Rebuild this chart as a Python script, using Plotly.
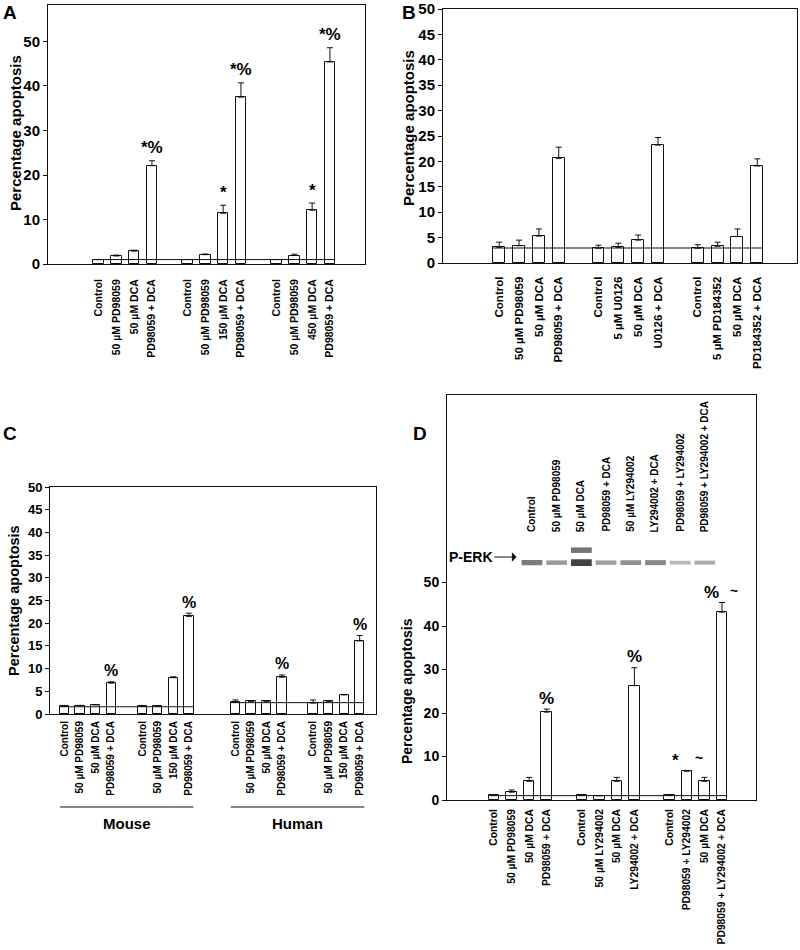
import plotly.graph_objects as go

W, H = 800, 950
FONT = "Liberation Sans, Arial, sans-serif"

# ---------------- DATA ----------------
A_labels = ["Control", "50 µM PD98059", "50 µM DCA", "PD98059 + DCA",
            "Control", "50 µM PD98059", "150 µM DCA", "PD98059 + DCA",
            "Control", "50 µM PD98059", "450 µM DCA", "PD98059 + DCA"]
A_values = [1.0, 1.8, 2.9, 22.1, 1.0, 2.1, 11.4, 37.5, 1.0, 1.9, 12.1, 45.4]
A_errors = [0.0, 0.2, 0.2, 1.1, 0.0, 0.15, 1.8, 3.2, 0.0, 0.3, 1.6, 3.2]
A_marks = ["", "", "", "*%", "", "", "*", "*%", "", "", "*", "*%"]
A_ref = 1.0
A_yticks = [0, 10, 20, 30, 40, 50]

B_labels = ["Control", "50 µM PD98059", "50 µM DCA", "PD98059 + DCA",
            "Control", "5 µM U0126", "50 µM DCA", "U0126 + DCA",
            "Control", "5 µM PD184352", "50 µM DCA", "PD184352 + DCA"]
B_values = [3.1, 3.4, 5.3, 20.6, 2.9, 3.1, 4.5, 23.2, 2.9, 3.3, 5.2, 19.1]
B_errors = [1.0, 1.1, 1.4, 2.2, 0.6, 0.8, 1.0, 1.5, 0.7, 0.8, 1.5, 1.4]
B_ref = 2.95
B_yticks = [0, 5, 10, 15, 20, 25, 30, 35, 40, 45, 50]

C_labels = ["Control", "50 µM PD98059", "50 µM DCA", "PD98059 + DCA",
            "Control", "50 µM PD98059", "150 µM DCA", "PD98059 + DCA",
            "Control", "50 µM PD98059", "50 µM DCA", "PD98059 + DCA",
            "Control", "50 µM PD98059", "150 µM DCA", "PD98059 + DCA"]
C_values = [1.7, 1.8, 2.0, 6.8, 1.7, 1.7, 8.0, 21.5,
            2.6, 2.8, 2.8, 8.1, 2.4, 2.8, 4.2, 16.1]
C_errors = [0.1, 0.1, 0.1, 0.3, 0.1, 0.1, 0.2, 0.7,
            0.5, 0.1, 0.1, 0.5, 0.7, 0.1, 0.1, 1.2]
C_marks = ["", "", "", "%", "", "", "", "%", "", "", "", "%", "", "", "", "%"]
C_species = ["Mouse", "Human"]
C_refs = [1.6, 2.5]
C_yticks = [0, 5, 10, 15, 20, 25, 30, 35, 40, 45, 50]

D_labels = ["Control", "50 µM PD98059", "50 µM DCA", "PD98059 + DCA",
            "Control", "50 µM LY294002", "50 µM DCA", "LY294002 + DCA",
            "Control", "PD98059 + LY294002", "50 µM DCA", "PD98059 + LY294002 + DCA"]
D_values = [1.15, 1.8, 4.3, 20.2, 1.15, 1.0, 4.3, 26.3, 1.15, 6.6, 4.3, 43.2]
D_errors = [0.0, 0.5, 0.9, 0.7, 0.0, 0.0, 0.9, 4.1, 0.0, 0.2, 0.9, 2.2]
D_marks = ["", "", "", "%", "", "", "", "%", "", "*", "", "%"]
D_tilde = ["", "", "", "", "", "", "", "", "", "~", "", "~"]
D_ref = 1.0
D_yticks = [0, 10, 20, 30, 40, 50]

blot_labels = ["Control", "50 µM PD98059", "50 µM DCA", "PD98059 + DCA",
               "50 µM LY294002", "LY294002 + DCA", "PD98059 + LY294002",
               "PD98059 + LY294002 + DCA"]
blot_main = [0.55, 0.40, 0.85, 0.38, 0.45, 0.50, 0.25, 0.32]
blot_upper = [0.0, 0.0, 0.60, 0.0, 0.0, 0.0, 0.0, 0.0]


# ---------------- helpers ----------------
def px_x(p):
    return p / W


def px_y(p):
    return 1 - p / H


def slots(n_groups, per_group, gaps):
    pos, cur = [], 0
    for g in range(n_groups):
        for i in range(per_group):
            pos.append(cur)
            cur += 1
        if g < n_groups - 1:
            cur += gaps[g]
    return pos


BW = 0.6
fig = go.Figure()
annotations = []
shapes = []


def add_bars(xa, ya, pos, vals, errs):
    fig.add_trace(go.Bar(
        x=pos, y=vals, width=BW, xaxis=xa, yaxis=ya,
        marker=dict(color="white", line=dict(color="#111", width=1)),
        error_y=dict(type="data", symmetric=False, array=errs,
                     arrayminus=[0] * len(errs), color="#111",
                     thickness=1, width=3),
        showlegend=False, hoverinfo="skip"))


def add_ref(xa, ya, x0, x1, v):
    fig.add_trace(go.Scatter(
        x=[x0 - BW / 2, x1 + BW / 2], y=[v, v], mode="lines",
        line=dict(color="#111", width=1), xaxis=xa, yaxis=ya,
        showlegend=False, hoverinfo="skip"))


def add_marks(xr, yr, pos, vals, errs, marks, size, shift, xshift=0):
    for p, v, e, m in zip(pos, vals, errs, marks):
        if m:
            annotations.append(dict(
                x=p, y=v + e, xref=xr, yref=yr, text="<b>%s</b>" % m,
                showarrow=False, xanchor="center", yanchor="middle", yshift=shift,
                xshift=xshift, font=dict(size=size, family=FONT, color="black")))


axis_common = dict(showline=True, linecolor="#111", linewidth=1, mirror=True,
                   showgrid=False, zeroline=False, automargin=False)

# ---------------- Panel A ----------------
A_pos = slots(3, 4, [1, 1])
add_bars("x", "y", A_pos, A_values, A_errors)
add_ref("x", "y", A_pos[0], A_pos[-1], A_ref)
add_marks("x", "y", A_pos, A_values, A_errors, A_marks, 17, 13)

# ---------------- Panel B ----------------
B_pos = slots(3, 4, [1, 1])
add_bars("x2", "y2", B_pos, B_values, B_errors)
add_ref("x2", "y2", B_pos[0], B_pos[-1], B_ref)

# ---------------- Panel C ----------------
C_pos = slots(4, 4, [1, 2, 1])
add_bars("x3", "y3", C_pos, C_values, C_errors)
for k, r in enumerate(C_refs):
    add_ref("x3", "y3", C_pos[8 * k], C_pos[8 * k + 7], r)
add_marks("x3", "y3", C_pos, C_values, C_errors, C_marks, 16, 11)
for k, name in enumerate(C_species):
    x0 = C_pos[8 * k] - BW / 2
    x1 = C_pos[8 * k + 7] + BW / 2
    shapes.append(dict(type="line", xref="x3", yref="paper", x0=x0, x1=x1,
                       y0=px_y(807), y1=px_y(807),
                       line=dict(color="#111", width=1.2)))
    annotations.append(dict(x=(x0 + x1) / 2, y=px_y(823), xref="x3", yref="paper",
                            xanchor="center", yanchor="middle",
                            text="<b>%s</b>" % name, showarrow=False,
                            font=dict(size=15, family=FONT, color="black")))

# ---------------- Panel D ----------------
D_pos = slots(3, 4, [1, 1])
add_bars("x4", "y4", D_pos, D_values, D_errors)
add_ref("x4", "y4", D_pos[0], D_pos[-1], D_ref)
both = [m != "" and t != "" for m, t in zip(D_marks, D_tilde)]
add_marks("x4", "y4", [p for p, b in zip(D_pos, both) if not b],
          [v for v, b in zip(D_values, both) if not b],
          [e for e, b in zip(D_errors, both) if not b],
          [m for m, b in zip(D_marks, both) if not b], 17, 11)
add_marks("x4", "y4", [p for p, b in zip(D_pos, both) if b],
          [v for v, b in zip(D_values, both) if b],
          [e for e, b in zip(D_errors, both) if b],
          [m for m, b in zip(D_marks, both) if b], 17, 10, xshift=-11)
add_marks("x4", "y4", D_pos, D_values, D_errors, D_tilde, 14, 12, xshift=12)

# blot
lanes = list(range(len(blot_labels)))
for i in lanes:
    for row, inten in ((0, blot_main[i]), (1, blot_upper[i])):
        if inten <= 0:
            continue
        g = int(235 - 200 * inten)
        fig.add_trace(go.Scatter(
            x=[i - 0.42, i + 0.42], y=[row, row], mode="lines",
            line=dict(color="rgb(%d,%d,%d)" % (g, g, g), width=2.5 + 5 * inten),
            xaxis="x5", yaxis="y5", showlegend=False, hoverinfo="skip"))
    annotations.append(dict(x=i, y=2.3, xref="x5", yref="y5",
                            text="<b>%s</b>" % blot_labels[i], textangle=-90,
                            showarrow=False, yanchor="bottom", xanchor="center",
                            font=dict(size=10, family=FONT, color="black")))
annotations.append(dict(x=-0.62, y=0.45, xref="x5", yref="y5", text="<b>P-ERK</b>",
                        showarrow=True, ax=-46, ay=0, arrowhead=1, arrowsize=1.6,
                        arrowwidth=1, arrowcolor="#111",
                        font=dict(size=14, family=FONT, color="black")))

# ---------------- axes ----------------
def xaxis(dom, rng, pos, labels, size, standoff):
    return dict(domain=[px_x(dom[0]), px_x(dom[1])], range=rng, tickvals=pos,
                ticktext=["<b>%s</b>" % t for t in labels], tickangle=-90,
                ticks="", ticklabelstandoff=standoff,
                tickfont=dict(size=size, family=FONT, color="black"), **axis_common)


def yaxis(dom, rng, vals, size, anchor):
    return dict(domain=[px_y(dom[1]), px_y(dom[0])], range=rng, tickvals=vals,
                ticktext=["<b>%d</b>" % v for v in vals], ticks="outside",
                ticklen=4, tickcolor="#111", anchor=anchor,
                tickfont=dict(size=size, family=FONT, color="black"), **axis_common)


D_top = 395
fig.update_layout(
    width=W, height=H, autosize=False, margin=dict(l=0, r=0, t=0, b=0, pad=0),
    paper_bgcolor="white", plot_bgcolor="rgba(0,0,0,0)",
    xaxis=xaxis((48, 365), [-2.84, 14.97], A_pos, A_labels, 10.5, 10) | dict(anchor="y"),
    yaxis=yaxis((5, 264), [0, 58.2], A_yticks, 15, "x"),
    xaxis2=xaxis((443, 797), [-2.83, 15.0], B_pos, B_labels, 11.5, 8) | dict(anchor="y2"),
    yaxis2=yaxis((9, 263), [0, 50], B_yticks, 15, "x2"),
    xaxis3=xaxis((50, 376), [-0.94, 20.05], C_pos, C_labels, 10, 2) | dict(anchor="y3"),
    yaxis3=yaxis((487, 714), [0, 50], C_yticks, 13, "x3"),
    xaxis4=xaxis((447, 756), [-2.69, 14.94], D_pos, D_labels, 10.3, 4) | dict(anchor="y4"),
    yaxis4=yaxis((D_top, 800), [0, (800 - D_top) / 4.35], D_yticks, 14, "x4"),
    xaxis5=dict(domain=[px_x(447), px_x(756)], range=[-3.44, 9.07], visible=False,
                anchor="y5", fixedrange=True),
    yaxis5=dict(domain=[px_y(600), px_y(463)], range=[-3, 8], visible=False,
                anchor="x5", fixedrange=True),
    bargap=0, barmode="overlay",
)

# panel letters and y titles
for letter, x, y in (("A", 10, 13), ("B", 409, 13), ("C", 10, 433), ("D", 420, 433)):
    annotations.append(dict(x=px_x(x), y=px_y(y), xref="paper", yref="paper",
                            xanchor="center", yanchor="middle",
                            text="<b>%s</b>" % letter, showarrow=False,
                            font=dict(size=19, family=FONT, color="black")))
for x, y, s in ((15, 133, 15), (408, 128, 15), (14, 601, 14.5), (407, 691, 14)):
    annotations.append(dict(x=px_x(x), y=px_y(y), xref="paper", yref="paper",
                            xanchor="center", yanchor="middle",
                            text="<b>Percentage apoptosis</b>", textangle=-90,
                            showarrow=False,
                            font=dict(size=s, family=FONT, color="black")))

fig.update_layout(annotations=annotations, shapes=shapes)
fig.write_html("out.html", config={"responsive": False, "displayModeBar": False},
               post_script="document.body.style.margin='0px';"
                           "document.body.style.overflow='hidden';")
